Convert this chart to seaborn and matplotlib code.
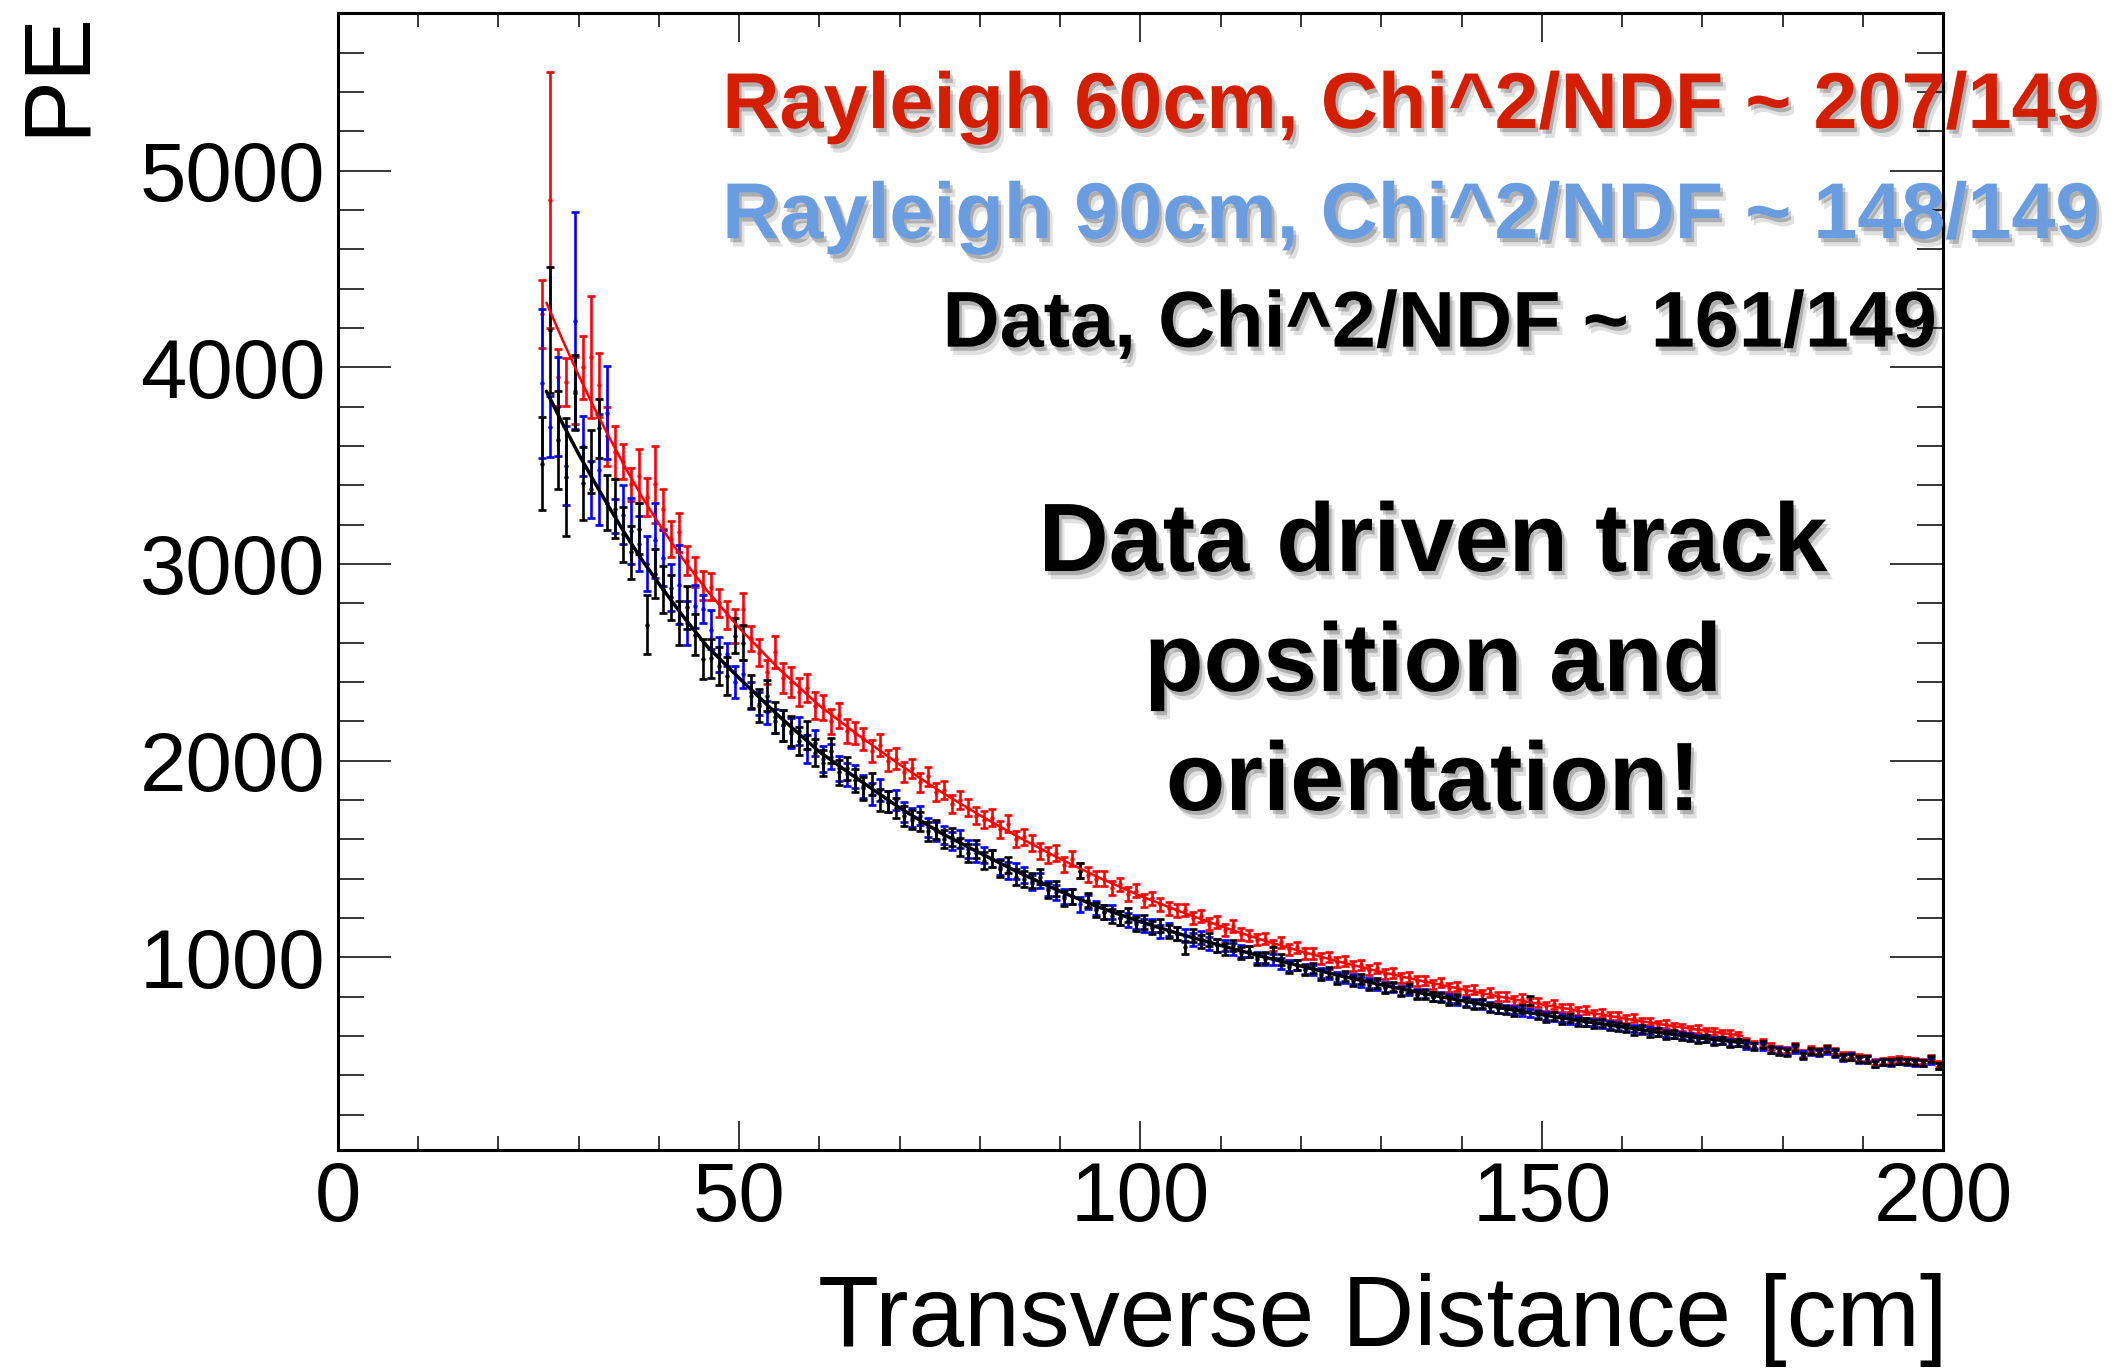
import numpy as np
import pandas as pd
import seaborn as sns
import matplotlib
matplotlib.use("Agg")
import matplotlib.pyplot as plt
import matplotlib.patheffects as pe
from matplotlib.ticker import MultipleLocator

# bin centres, 1 cm bins from 25 to 200 cm
BIN_X = np.arange(25.5, 200.0, 1.0)

PE_DATA = [
    3510, 4190, 3630, 3440, 3870, 3410, 3520, 3690, 3310, 3280,
    3150, 3060, 3180, 2690, 2950, 2870, 2830, 2700, 2780, 2640,
    2516, 2520, 2480, 2430, 2636, 2600, 2350, 2280, 2330, 2220,
    2180, 2150, 2100, 2130, 2040, 1990, 2050, 1940, 1960, 1900,
    1860, 1880, 1800, 1790, 1760, 1720, 1700, 1690, 1640, 1650,
    1600, 1610, 1560, 1530, 1550, 1490, 1500, 1450, 1470, 1410,
    1400, 1390, 1410, 1340, 1350, 1300, 1310, 1440, 1290, 1240,
    1230, 1210, 1200, 1215, 1170, 1180, 1150, 1160, 1130, 1120,
    1050, 1110, 1080, 1090, 1060, 1040, 1060, 1020, 1030, 990,
    1000, 1025, 990, 950, 960, 935, 945, 910, 925, 890,
    905, 880, 890, 860, 870, 845, 850, 825, 840, 810,
    810, 800, 795, 780, 790, 770, 760, 765, 745, 740,
    730, 720, 735, 780, 705, 690, 700, 680, 690, 670,
    670, 660, 665, 650, 645, 640, 625, 635, 615, 620,
    605, 610, 595, 590, 580, 585, 570, 575, 560, 565,
    560, 545, 558, 532, 520, 517, 542, 498, 524, 517,
    532, 515, 491, 492, 482, 480, 456, 465, 468, 473,
    470, 465, 462, 482, 448,
]
PE_R90 = [
    3918, 3697, 3800, 3500, 4237, 3599, 3379, 3480, 3769, 3243,
    3250, 3167, 3103, 3000, 3120, 3031, 2880, 2895, 2700, 2785,
    2770, 2666, 2540, 2540, 2400, 2440, 2330, 2290, 2245, 2200,
    2180, 2140, 2150, 2060, 2090, 2010, 2020, 1960, 1930, 1920,
    1870, 1830, 1850, 1790, 1800, 1740, 1710, 1720, 1660, 1640,
    1620, 1590, 1600, 1550, 1530, 1520, 1500, 1460, 1440, 1440,
    1420, 1380, 1390, 1350, 1330, 1310, 1310, 1270, 1280, 1250,
    1230, 1230, 1200, 1190, 1180, 1160, 1160, 1130, 1140, 1120,
    1110, 1090, 1100, 1070, 1060, 1060, 1040, 1030, 1030, 1000,
    990, 990, 970, 960, 960, 940, 935, 920, 915, 900,
    895, 890, 875, 870, 860, 850, 845, 830, 830, 815,
    815, 800, 800, 790, 780, 775, 765, 760, 750, 740,
    738, 730, 722, 715, 710, 700, 698, 690, 682, 680,
    672, 668, 660, 655, 650, 642, 638, 630, 628, 620,
    612, 608, 602, 595, 588, 585, 578, 575, 568, 565,
    552, 548, 545, 528, 525, 520, 530, 505, 518, 512,
    525, 510, 488, 495, 478, 482, 460, 468, 462, 470,
    465, 460, 462, 472, 445,
]
PE_R60 = [
    4270, 4850, 3950, 3925, 3880, 4000, 4050, 3910, 3650, 3567,
    3520, 3405, 3447, 3342, 3405, 3279, 3126, 3161, 3017, 2960,
    2890, 2885, 2800, 2740, 2684, 2769, 2620, 2549, 2450, 2552,
    2420, 2400, 2350, 2370, 2280, 2270, 2200, 2230, 2150, 2140,
    2110, 2050, 2080, 2000, 2010, 1940, 1960, 1890, 1920, 1840,
    1850, 1780, 1800, 1760, 1720, 1700, 1710, 1650, 1680, 1600,
    1610, 1580, 1540, 1520, 1530, 1470, 1500, 1440, 1420, 1400,
    1400, 1350, 1370, 1320, 1339, 1290, 1300, 1270, 1250, 1240,
    1240, 1200, 1210, 1170, 1180, 1140, 1160, 1120, 1110, 1090,
    1095, 1060, 1075, 1040, 1050, 1020, 1020, 995, 1000, 975,
    980, 955, 960, 935, 945, 915, 920, 895, 900, 880,
    880, 860, 870, 845, 850, 830, 835, 810, 820, 800,
    800, 780, 790, 770, 770, 750, 760, 740, 740, 725,
    730, 712, 715, 700, 700, 685, 690, 670, 672, 655,
    660, 645, 645, 632, 635, 620, 622, 610, 612, 600,
    570, 555, 565, 545, 530, 528, 548, 510, 532, 525,
    540, 522, 500, 502, 490, 488, 466, 474, 476, 482,
    478, 472, 470, 490, 455,
]

# errors from bin 55.5 on (shared look for all three samples)
ERR_TAIL = [
    78, 75, 72, 70, 68, 66, 64, 62, 60, 58,
    58, 57, 56, 54, 52, 51, 50, 49, 48, 47,
    46, 45, 45, 44, 44, 43, 43, 42, 42, 41,
    41, 40, 40, 39, 39, 38, 38, 38, 37, 37,
    36, 36, 35, 35, 35, 34, 34, 33, 33, 33,
    32, 32, 31, 31, 31, 30, 30, 30, 29, 29,
    29, 28, 28, 28, 27, 27, 27, 27, 26, 26,
    26, 26, 25, 25, 25, 25, 24, 24, 24, 24,
    23, 23, 23, 23, 23, 22, 22, 22, 22, 22,
    21, 21, 21, 21, 21, 21, 21, 20, 20, 20,
    20, 20, 20, 20, 19, 19, 19, 19, 19, 19,
    19, 19, 18, 18, 18, 18, 18, 18, 18, 18,
    17, 17, 17, 17, 17, 17, 17, 17, 16, 16,
    16, 16, 16, 16, 16, 16, 16, 15, 15, 15,
    15, 15, 15, 15, 15,
]
ERR_DATA = [
    235, 320, 250, 300, 190, 185, 160, 150, 140, 150,
    140, 135, 130, 150, 125, 120, 115, 110, 110, 105,
    100, 100, 95, 95, 90, 90, 85, 85, 80, 80,
] + ERR_TAIL
ERR_R90 = [
    377, 155, 250, 200, 553, 152, 143, 280, 237, 85,
    150, 169, 140, 140, 190, 144, 120, 203, 110, 110,
    70, 100, 90, 60, 80, 70, 70, 60, 60, 60,
] + ERR_TAIL
ERR_R60 = [
    172, 650, 145, 120, 170, 160, 310, 165, 150, 135,
    90, 85, 135, 97, 195, 100, 93, 100, 72, 75,
    72, 70, 70, 70, 85, 85, 65, 68, 60, 80,
] + ERR_TAIL

# fitted curves (26 - 175 cm)
FIT_X = [26, 28, 30, 32, 34, 36, 38, 40, 43, 46, 50, 55, 60, 65, 70, 75, 80, 85,
         90, 95, 100, 105, 110, 115, 120, 125, 130, 135, 140, 145, 150, 155,
         160, 165, 170, 175]
FIT_DATA = [3878, 3715, 3560, 3415, 3275, 3140, 3015, 2900, 2735, 2582, 2420,
            2225, 2045, 1900, 1760, 1635, 1530, 1428, 1335, 1252, 1180, 1117,
            1060, 1005, 955, 905, 860, 818, 780, 742, 708, 676, 646, 615, 588, 566]
FIT_R60 = [4328, 4140, 3960, 3790, 3630, 3478, 3335, 3205, 3025, 2865, 2675,
           2465, 2280, 2125, 1980, 1845, 1722, 1607, 1500, 1402, 1312, 1232,
           1158, 1090, 1030, 975, 925, 880, 838, 798, 760, 725, 691, 658, 628, 601]

LEGEND_LINES = [
    ("Rayleigh 60cm, Chi^2/NDF ~ 207/149", "#d41e00"),
    ("Rayleigh 90cm, Chi^2/NDF ~ 148/149", "#6a9de0"),
    ("Data, Chi^2/NDF ~ 161/149", "black"),
]
NOTE_LINES = ["Data driven track", "position and", "orientation!"]

sns.set_theme(style="ticks")
plt.rcParams["font.family"] = ["Liberation Sans", "DejaVu Sans"]
plt.rcParams["text.color"] = "black"

fig = plt.figure(figsize=(21.16, 13.69), dpi=100)
ax = fig.add_axes([0.1596, 0.16, 0.7587, 0.8303])

series = [
    (PE_R60, ERR_R60, "#ff0000"),
    (PE_R90, ERR_R90, "#0000ff"),
    (PE_DATA, ERR_DATA, "black"),
]
for i, (vals, errs, col) in enumerate(series):
    ax.errorbar(BIN_X, vals, yerr=errs, fmt="none", ecolor=col, elinewidth=1.9,
                capsize=2.6, capthick=1.9, zorder=2 + i)
    sns.scatterplot(x=BIN_X, y=vals, color=col, s=10, linewidth=0, ax=ax,
                    zorder=2.5 + i)

fits = pd.DataFrame({"x": FIT_X, "data": FIT_DATA, "r60": FIT_R60})
sns.lineplot(data=fits, x="x", y="r60", color="#ff0000", linewidth=1.8,
             sort=False, ax=ax, zorder=6)
sns.lineplot(data=fits, x="x", y="data", color="black", linewidth=2.5,
             sort=False, ax=ax, zorder=7)

ax.set_xlim(0, 200)
ax.set_ylim(20, 5800)
ax.set_xlabel("")
ax.set_ylabel("")
ax.xaxis.set_major_locator(MultipleLocator(50))
ax.xaxis.set_minor_locator(MultipleLocator(10))
ax.yaxis.set_major_locator(MultipleLocator(1000))
ax.yaxis.set_minor_locator(MultipleLocator(200))
ax.tick_params(which="both", direction="in", top=True, right=True,
               width=1.1, colors="black", labelsize=60)
ax.tick_params(axis="x", which="major", length=21, pad=7)
ax.tick_params(axis="x", which="minor", length=10)
ax.tick_params(axis="y", which="major", length=38, pad=9)
ax.tick_params(axis="y", which="minor", length=19)
for sp in ax.spines.values():
    sp.set_linewidth(2.2)
    sp.set_color("black")
    sp.set_visible(True)

fig.text(0.9206, 0.0171, "Transverse Distance [cm]", ha="right", va="baseline",
         fontsize=72, color="black")
fig.text(0.0485, 0.9925, "PE", rotation=90, ha="right", va="top", fontsize=68,
         color="black")

shadow = [pe.SimplePatchShadow(offset=(2, -3), shadow_rgbFace="black", alpha=0.22),
          pe.SimplePatchShadow(offset=(4, -6), shadow_rgbFace="black", alpha=0.12),
          pe.Normal()]

legend_pos = [(0.992, 0.9065), (0.992, 0.8261), (0.9154, 0.7468)]
for (txt, col), (lx, ly) in zip(LEGEND_LINES, legend_pos):
    fig.text(lx, ly, txt, color=col, ha="right", va="baseline", fontsize=57,
             fontweight="bold", path_effects=shadow)

note_y = [0.5829, 0.4953, 0.4083]
for txt, ny in zip(NOTE_LINES, note_y):
    fig.text(0.6773, ny, txt, color="black", ha="center", va="baseline",
             fontsize=70, fontweight="bold", path_effects=shadow)

fig.savefig("out.png", dpi=100)
